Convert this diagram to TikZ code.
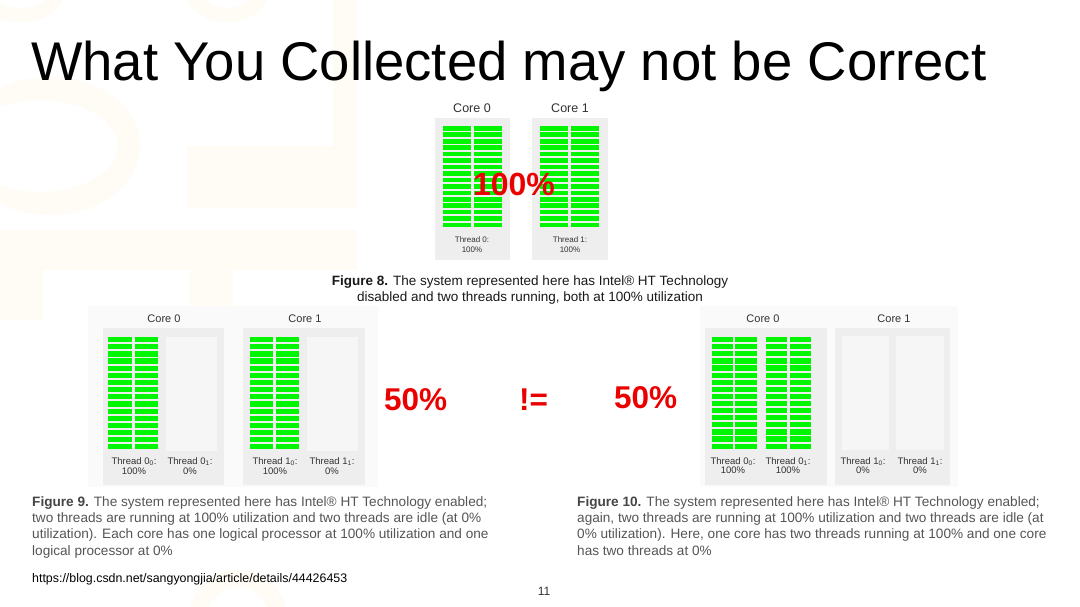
\documentclass[tikz,border=0pt]{standalone}
\usepackage{fontspec}
\setmainfont{Liberation Sans}
\definecolor{barg}{RGB}{0,245,0}
\definecolor{corebg}{RGB}{238,238,238}
\definecolor{slotbg}{RGB}{246,246,246}
\definecolor{panelbg}{RGB}{250,250,250}
\definecolor{figtxt}{RGB}{50,50,50}
\definecolor{captxt}{RGB}{85,85,85}
\definecolor{capbold}{RGB}{70,70,70}
\definecolor{bigred}{RGB}{235,0,0}
\definecolor{wmark}{RGB}{255,251,245}
\newcommand\greenbars[5]{\foreach \i in {0,...,15}{\fill[barg] (#1,{#3+\i*#4}) rectangle (#2,{#3+\i*#4+#5});}}
\tikzset{
  corebox/.style={fill=corebg},
  slotbox/.style={fill=slotbg},
  wm/.style={fill=wmark},
  corelbl/.style={anchor=base,text=figtxt,inner sep=0pt},
  redlbl/.style={anchor=base west,text=bigred,inner sep=0pt,font=\bfseries},
  caption/.style={anchor=base west,text=captxt,inner sep=0pt,font=\fontsize{13.6}{16}\selectfont},
}
\begin{document}
\begin{tikzpicture}[x=1pt,y=-1pt]
\useasboundingbox (0,0) rectangle (1080,606);
\fill[white] (0,0) rectangle (1080,606);

% faint watermark shapes
\begin{scope}
\clip (0,0) rectangle (1080,606);
\fill[wm,even odd rule] (50,146) ellipse [x radius=90,y radius=69] (40,146) ellipse [x radius=78,y radius=46];
\fill[wm] (333,0) rectangle (357,208);
\fill[wm] (187,146) rectangle (357,208);
\fill[wm] (0,230) rectangle (357,270);
\fill[wm] (0,230) rectangle (43,320);
\fill[wm] (190,230) rectangle (233,327);
\fill[wm,even odd rule] (20,-10) ellipse [x radius=45,y radius=32] (20,-10) ellipse [x radius=30,y radius=18];
\fill[wm,even odd rule] (227,-10) ellipse [x radius=42,y radius=32] (227,-10) ellipse [x radius=26,y radius=18];
\fill[wm,even odd rule] (238,615) ellipse [x radius=48,y radius=45] (238,615) ellipse [x radius=30,y radius=28];
\end{scope}

% title
\node[anchor=base west,inner sep=0pt,font=\fontsize{54.5}{60}\selectfont] (title) at (31,80) {What You Collected may not be Correct};

% ---------- Figure 8 ----------
\fill[corebox] (435,118) rectangle (510,260);
\fill[corebox] (532,118) rectangle (608,260);
\greenbars{443}{471}{126}{6.45}{4.6}
\greenbars{474}{502}{126}{6.45}{4.6}
\greenbars{540}{568}{126}{6.45}{4.6}
\greenbars{571}{599}{126}{6.45}{4.6}
\node[corelbl,font=\fontsize{12.5}{14}\selectfont] (f8c0) at (472,112) {Core 0};
\node[corelbl,font=\fontsize{12.5}{14}\selectfont] (f8c1) at (570,112) {Core 1};
\node[corelbl,font=\fontsize{8}{10}\selectfont] (f8t0) at (472,242) {Thread 0:};
\node[corelbl,font=\fontsize{8}{10}\selectfont] (f8p0) at (472,252) {100\%};
\node[corelbl,font=\fontsize{8}{10}\selectfont] (f8t1) at (570,242) {Thread 1:};
\node[corelbl,font=\fontsize{8}{10}\selectfont] (f8p1) at (570,252) {100\%};
\node[anchor=base,text=bigred,inner sep=0pt,font=\bfseries\fontsize{32}{34}\selectfont] (r100) at (514,195) {100\%};
\node[anchor=base,inner sep=0pt,text=black!90,font=\fontsize{13.5}{16}\selectfont] (cap8a) at (530,285) {\textbf{Figure 8.} The system represented here has Intel® HT Technology};
\node[anchor=base,inner sep=0pt,text=black!90,font=\fontsize{13.5}{16}\selectfont] (cap8b) at (530,301) {disabled and two threads running, both at 100\% utilization};

% ---------- Figure 9 ----------
\fill[panelbg] (88,306) rectangle (378,487);
\fill[corebox] (103,328) rectangle (224,485);
\fill[corebox] (243,328) rectangle (365,485);
\fill[slotbox] (166,337) rectangle (217,451);
\fill[slotbox] (307,337) rectangle (358,451);
\greenbars{108}{132}{337}{7.15}{5.2}
\greenbars{135}{158}{337}{7.15}{5.2}
\greenbars{250}{273}{337}{7.15}{5.2}
\greenbars{276}{299}{337}{7.15}{5.2}
\node[corelbl,font=\fontsize{11}{12}\selectfont] (f9c0) at (164,322) {Core 0};
\node[corelbl,font=\fontsize{11}{12}\selectfont] (f9c1) at (305,322) {Core 1};
\node[corelbl,font=\fontsize{9.5}{10}\selectfont] (f9t00) at (134,464) {Thread 0\textsubscript{0}:};
\node[corelbl,font=\fontsize{9.5}{10}\selectfont] (f9p00) at (134,474) {100\%};
\node[corelbl,font=\fontsize{9.5}{10}\selectfont] (f9t01) at (190,464) {Thread 0\textsubscript{1}:};
\node[corelbl,font=\fontsize{9.5}{10}\selectfont] (f9p01) at (190,474) {0\%};
\node[corelbl,font=\fontsize{9.5}{10}\selectfont] (f9t10) at (275,464) {Thread 1\textsubscript{0}:};
\node[corelbl,font=\fontsize{9.5}{10}\selectfont] (f9p10) at (275,474) {100\%};
\node[corelbl,font=\fontsize{9.5}{10}\selectfont] (f9t11) at (332,464) {Thread 1\textsubscript{1}:};
\node[corelbl,font=\fontsize{9.5}{10}\selectfont] (f9p11) at (332,474) {0\%};

% ---------- Figure 10 ----------
\fill[panelbg] (700,306) rectangle (958,487);
\fill[corebox] (705,328) rectangle (827,485);
\fill[corebox] (835,328) rectangle (950,485);
\fill[slotbox] (842,336) rectangle (889,450);
\fill[slotbox] (896,336) rectangle (944,450);
\greenbars{712}{733}{337}{7.1}{5.2}
\greenbars{735}{757}{337}{7.1}{5.2}
\greenbars{766}{787}{337}{7.1}{5.2}
\greenbars{790}{811}{337}{7.1}{5.2}
\node[corelbl,font=\fontsize{11}{12}\selectfont] (f10c0) at (763,322) {Core 0};
\node[corelbl,font=\fontsize{11}{12}\selectfont] (f10c1) at (894,322) {Core 1};
\node[corelbl,font=\fontsize{9.5}{10}\selectfont] (f10t00) at (733,464) {Thread 0\textsubscript{0}:};
\node[corelbl,font=\fontsize{9.5}{10}\selectfont] (f10p00) at (733,473) {100\%};
\node[corelbl,font=\fontsize{9.5}{10}\selectfont] (f10t01) at (788,464) {Thread 0\textsubscript{1}:};
\node[corelbl,font=\fontsize{9.5}{10}\selectfont] (f10p01) at (788,473) {100\%};
\node[corelbl,font=\fontsize{9.5}{10}\selectfont] (f10t10) at (863,464) {Thread 1\textsubscript{0}:};
\node[corelbl,font=\fontsize{9.5}{10}\selectfont] (f10p10) at (863,473) {0\%};
\node[corelbl,font=\fontsize{9.5}{10}\selectfont] (f10t11) at (920,464) {Thread 1\textsubscript{1}:};
\node[corelbl,font=\fontsize{9.5}{10}\selectfont] (f10p11) at (920,473) {0\%};

% ---------- red comparison ----------
\node[redlbl,font=\bfseries\fontsize{31.5}{34}\selectfont] (r50a) at (384,410) {50\%};
\node[redlbl,font=\bfseries\fontsize{31.5}{34}\selectfont] (rneq) at (519,410) {!=};
\node[redlbl,font=\bfseries\fontsize{31.5}{34}\selectfont] (r50b) at (614,408) {50\%};

% ---------- captions ----------
\node[caption] (cap9a) at (32,506) {\textbf{\textcolor{capbold}{Figure 9.}} The system represented here has Intel® HT Technology enabled;};
\node[caption] (cap9b) at (32,522) {two threads are running at 100\% utilization and two threads are idle (at 0\%};
\node[caption] (cap9c) at (32,538) {utilization). Each core has one logical processor at 100\% utilization and one};
\node[caption] (cap9d) at (32,555) {logical processor at 0\%};

\node[caption] (cap10a) at (577,506) {\textbf{\textcolor{capbold}{Figure 10.}} The system represented here has Intel® HT Technology enabled;};
\node[caption] (cap10b) at (577,522) {again, two threads are running at 100\% utilization and two threads are idle (at};
\node[caption] (cap10c) at (577,538) {0\% utilization). Here, one core has two threads running at 100\% and one core};
\node[caption] (cap10d) at (577,555) {has two threads at 0\%};

\node[anchor=base west,inner sep=0pt,font=\fontsize{12.4}{14}\selectfont] (url) at (32,582) {https://blog.csdn.net/sangyongjia/article/details/44426453};
\node[anchor=base,inner sep=0pt,text=black!80,font=\fontsize{12}{14}\selectfont] (pgno) at (544,595) {11};
\end{tikzpicture}
\end{document}
